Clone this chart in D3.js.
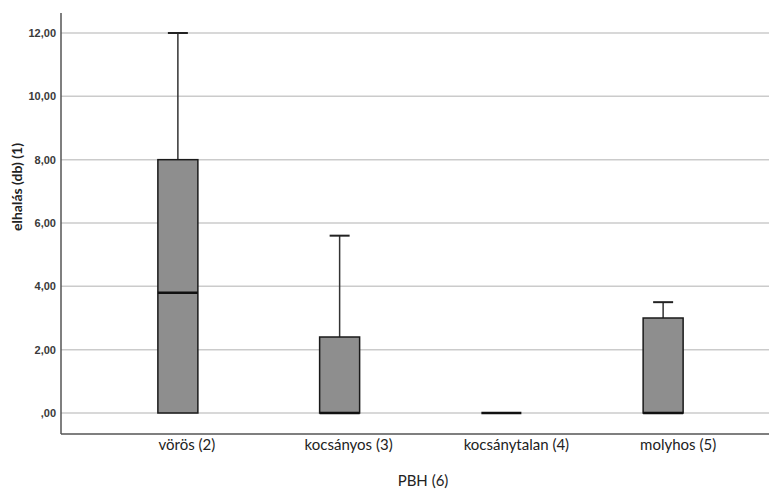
<!DOCTYPE html>
<html>
<head>
<meta charset="utf-8">
<script src="https://cdn.jsdelivr.net/npm/d3@7"></script>
<style>
  body { margin: 0; background: #fff; }
</style>
</head>
<body>
<div id="chart"></div>
<script>
(function() {
  // Data
  const categories = ["vörös (2)", "kocsányos (3)", "kocsánytalan (4)", "molyhos (5)"];
  const whiskerLow = [0, 0, 0, 0];
  const q1 = [0, 0, 0, 0];
  const median = [3.8, 0, 0, 0];
  const q3 = [8.0, 2.4, 0, 3.0];
  const whiskerHigh = [12.0, 5.6, 0, 3.5];
  const yTicks = [0, 2, 4, 6, 8, 10, 12];

  const width = 769, height = 492;

  const svg = d3.select("#chart").append("svg")
    .attr("width", width)
    .attr("height", height);

  const x = d3.scaleBand()
    .domain(categories)
    .range([97, 744]);

  const y = d3.scaleLinear()
    .domain([0, 12])
    .range([413, 33]);

  const axisX = 61, axisY = 434;
  const boxW = 40, capW = 20;

  // Gridlines
  svg.append("g")
    .selectAll("line")
    .data(yTicks)
    .join("line")
    .attr("x1", axisX)
    .attr("x2", width)
    .attr("y1", d => y(d))
    .attr("y2", d => y(d))
    .attr("stroke", "#cbcbcb")
    .attr("stroke-width", 1.5);

  // Axes
  const yAxis = d3.axisLeft(y)
    .tickValues(yTicks)
    .tickSize(0)
    .tickPadding(5)
    .tickFormat(d => d === 0 ? ",00" : d3.format(".2f")(d).replace(".", ","));

  const gy = svg.append("g")
    .attr("transform", `translate(${axisX},0)`)
    .call(yAxis);
  gy.select(".domain").remove();
  gy.selectAll("text")
    .attr("font-family", "'Liberation Sans', Arial, sans-serif")
    .attr("font-size", 11)
    .attr("font-weight", "bold")
    .attr("fill", "#3a3a3a");

  svg.append("line")
    .attr("x1", axisX).attr("x2", axisX)
    .attr("y1", 13).attr("y2", axisY)
    .attr("stroke", "#555")
    .attr("stroke-width", 1.5);

  svg.append("line")
    .attr("x1", axisX).attr("x2", width)
    .attr("y1", axisY).attr("y2", axisY)
    .attr("stroke", "#555")
    .attr("stroke-width", 1.5);

  const xAxis = d3.axisBottom(x).tickSize(0).tickPadding(5);
  const gx = svg.append("g")
    .attr("transform", `translate(0,${axisY})`)
    .call(xAxis);
  gx.select(".domain").remove();
  gx.selectAll("text")
    .attr("dx", (d, i) => i < 2 ? 9 : 15)
    .attr("font-family", "Lato, 'Open Sans', sans-serif")
    .attr("font-size", 15)
    .attr("fill", "#222");

  // Box plots
  const rows = categories.map((c, i) => ({
    cat: c, lo: whiskerLow[i], q1: q1[i], med: median[i], q3: q3[i], hi: whiskerHigh[i]
  }));

  const g = svg.append("g")
    .selectAll("g")
    .data(rows)
    .join("g")
    .attr("transform", d => `translate(${x(d.cat) + x.bandwidth() / 2},0)`);

  // upper whisker
  g.filter(d => d.hi > d.q3)
    .append("line")
    .attr("x1", 0).attr("x2", 0)
    .attr("y1", d => y(d.q3)).attr("y2", d => y(d.hi))
    .attr("stroke", "#333")
    .attr("stroke-width", 1.5);
  g.filter(d => d.hi > d.q3)
    .append("line")
    .attr("x1", -capW / 2).attr("x2", capW / 2)
    .attr("y1", d => y(d.hi)).attr("y2", d => y(d.hi))
    .attr("stroke", "#222")
    .attr("stroke-width", 2);

  // box
  g.filter(d => d.q3 > d.q1)
    .append("rect")
    .attr("x", -boxW / 2)
    .attr("width", boxW)
    .attr("y", d => y(d.q3))
    .attr("height", d => y(d.q1) - y(d.q3))
    .attr("fill", "#8e8e8e")
    .attr("stroke", "#1a1a1a")
    .attr("stroke-width", 1.5);

  // median
  g.append("line")
    .attr("x1", -boxW / 2).attr("x2", boxW / 2)
    .attr("y1", d => y(d.med)).attr("y2", d => y(d.med))
    .attr("stroke", "#111")
    .attr("stroke-width", 2.5);

  // Axis titles
  svg.append("text")
    .attr("x", 423)
    .attr("y", 486)
    .attr("text-anchor", "middle")
    .attr("font-family", "Lato, 'Open Sans', sans-serif")
    .attr("font-size", 15)
    .attr("fill", "#222")
    .text("PBH (6)");

  svg.append("text")
    .attr("transform", "translate(22,187) rotate(-90)")
    .attr("text-anchor", "middle")
    .attr("font-family", "Lato, 'Open Sans', sans-serif")
    .attr("font-size", 14)
    .attr("font-weight", "bold")
    .attr("fill", "#222")
    .text("elhalás (db) (1)");
})();
</script>
</body>
</html>
